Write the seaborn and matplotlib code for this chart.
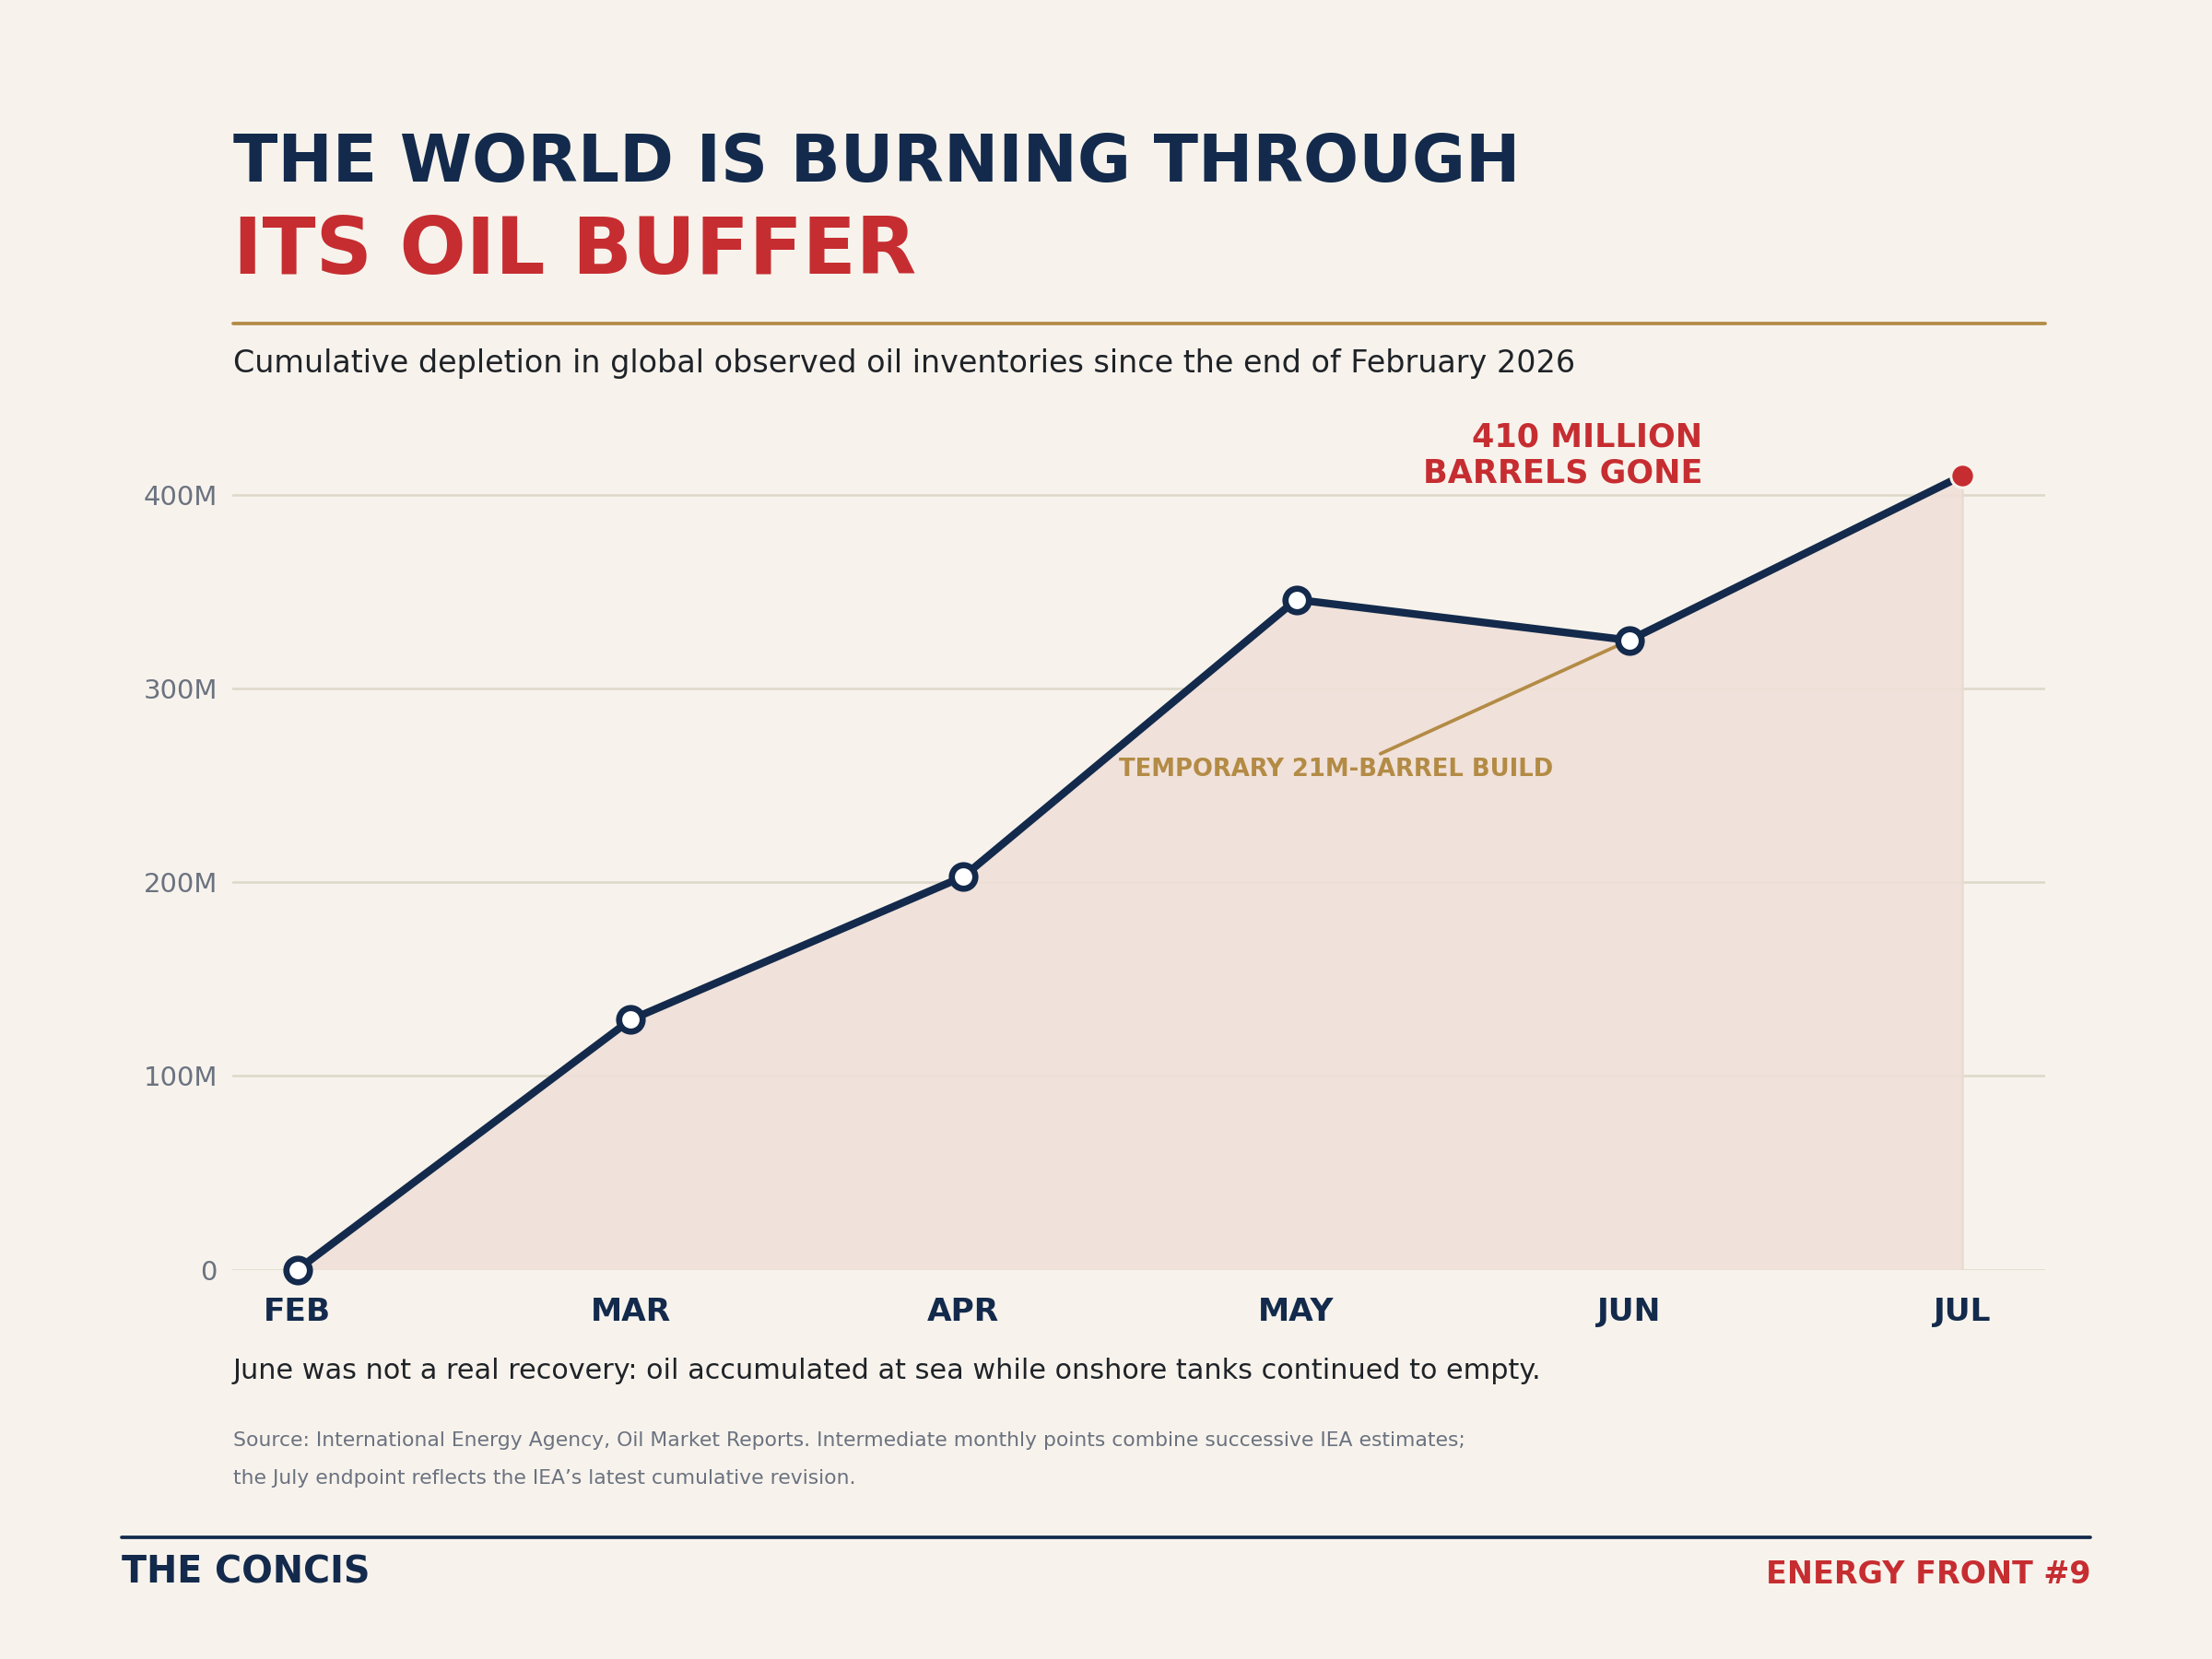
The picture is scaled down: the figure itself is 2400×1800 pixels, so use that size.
import matplotlib
matplotlib.use("Agg")
import matplotlib.pyplot as plt
import seaborn as sns
import pandas as pd
from matplotlib.lines import Line2D

months = ["FEB", "MAR", "APR", "MAY", "JUN", "JUL"]
depletion = [0, 129, 203, 346, 325, 410]
yticks = [0, 100, 200, 300, 400]
ytick_labels = ["0", "100M", "200M", "300M", "400M"]

NAVY = "#132a4c"
RED = "#c62d31"
GOLD = "#b38b45"
BG = "#f7f3ec"
GRID = "#ddd8c9"
GRAY = "#6b7280"
DARK = "#1f2328"

sns.set_theme(style="white")
plt.rcParams["font.family"] = ["DejaVu Sans"]

df = pd.DataFrame({"month": months, "value": depletion, "x": range(len(months))})

fig = plt.figure(figsize=(16, 12), dpi=150, facecolor=BG)
ax = fig.add_axes([0.1052, 0.2347, 0.8195, 0.5136])
ax.set_facecolor(BG)

ax.fill_between(df["x"], df["value"], 0, color="#f0e0d8", alpha=0.9, zorder=1, linewidth=0)
ax.plot([df["x"].iloc[-1]] * 2, [0, depletion[-1]], color="#eadbd1", lw=1.2, zorder=1)
sns.lineplot(data=df, x="x", y="value", ax=ax, color=NAVY, lw=4.0, zorder=3)
ax.scatter(df["x"][:-1], df["value"][:-1], s=150, facecolor="white", edgecolor=NAVY,
           linewidth=3.2, zorder=4, clip_on=False)
ax.scatter(df["x"].iloc[-1:], df["value"].iloc[-1:], s=150, facecolor=RED, edgecolor=BG,
           linewidth=1.5, zorder=5, clip_on=False)

ax.set_xlim(-0.195, 5.25)
ax.set_ylim(0, 440)
ax.set_yticks(yticks)
ax.set_yticklabels(ytick_labels, color=GRAY, fontsize=14)
ax.set_xticks(list(df["x"]))
ax.set_xticklabels(months, color=NAVY, fontsize=16.5, fontweight="bold")
ax.tick_params(axis="both", length=0)
ax.tick_params(axis="x", pad=14)
ax.tick_params(axis="y", pad=8)
ax.set_xlabel("")
ax.set_ylabel("")
for y in yticks:
    ax.axhline(y, color=GRID, lw=1.2, zorder=0)
for s in ax.spines.values():
    s.set_visible(False)

ax.text(4.22, 420.5, "410 MILLION\nBARRELS GONE", color=RED, fontsize=16.8, fontweight="bold",
        ha="right", va="center", linespacing=1.2)
ax.annotate("TEMPORARY 21M-BARREL BUILD", xy=(4, 325), xytext=(3.12, 258),
            color=GOLD, fontsize=12.4, fontweight="bold", ha="center", va="center",
            arrowprops=dict(arrowstyle="-", color=GOLD, lw=1.8,
                            shrinkA=0, shrinkB=6, relpos=(0.58, 1.0)))

fig.text(165 / 1568, 1 - 116 / 1176, "THE WORLD IS BURNING THROUGH", color=NAVY,
         fontsize=34, fontweight="bold", ha="left", va="center")
fig.text(165 / 1568, 1 - 179 / 1176, "ITS OIL BUFFER", color=RED,
         fontsize=40.8, fontweight="bold", ha="left", va="center")
fig.add_artist(Line2D([165 / 1568, 1450 / 1568], [1 - 229 / 1176] * 2, color=GOLD, lw=1.8))
fig.text(165 / 1568, 1 - 258 / 1176,
         "Cumulative depletion in global observed oil inventories since the end of February 2026",
         color=DARK, fontsize=16, ha="left", va="center")

fig.text(165 / 1568, 1 - 972 / 1176,
         "June was not a real recovery: oil accumulated at sea while onshore tanks continued to empty.",
         color=DARK, fontsize=14.5, ha="left", va="center")
fig.text(165 / 1568, 1 - 1021 / 1176,
         "Source: International Energy Agency, Oil Market Reports. Intermediate monthly points combine successive IEA estimates;",
         color=GRAY, fontsize=10.5, ha="left", va="center")
fig.text(165 / 1568, 1 - 1048 / 1176,
         "the July endpoint reflects the IEA\u2019s latest cumulative revision.",
         color=GRAY, fontsize=10.5, ha="left", va="center")

fig.add_artist(Line2D([86 / 1568, 1482 / 1568], [1 - 1090 / 1176] * 2, color=NAVY, lw=1.8))
fig.text(86 / 1568, 1 - 1115 / 1176, "THE CONCIS", color=NAVY, fontsize=19,
         fontweight="bold", ha="left", va="center")
fig.text(1482 / 1568, 1 - 1116 / 1176, "ENERGY FRONT #9", color=RED, fontsize=16,
         fontweight="bold", ha="right", va="center")

fig.savefig("out.png", dpi=150, facecolor=BG)
